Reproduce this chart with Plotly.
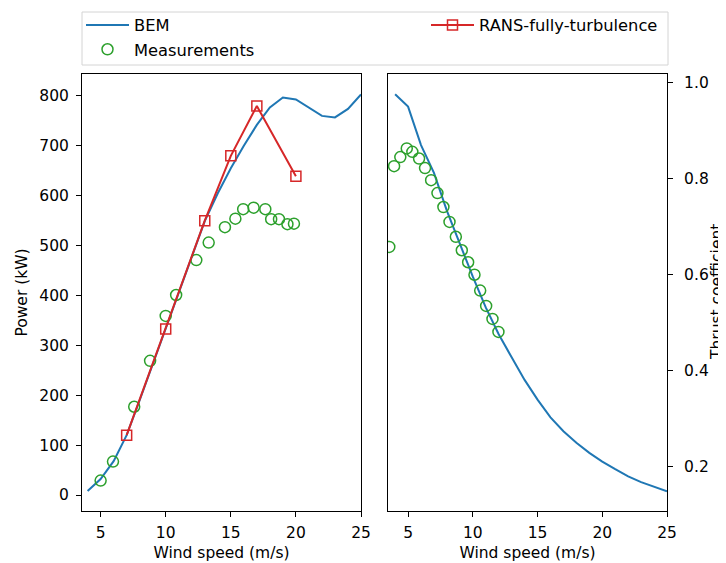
import plotly.graph_objects as go

# ---- data ----
bem_ws = [4, 5, 6, 7, 8, 9, 10, 11, 12, 13, 14, 15, 16, 17, 18, 19, 20, 21, 22, 23, 24, 25]
bem_power = [8, 32, 68, 120, 190, 262, 333, 405, 478, 549, 605, 655, 700, 742, 777, 797, 793, 777, 760, 757, 774, 803]
bem_ct = [0.976, 0.950, 0.870, 0.812, 0.733, 0.663, 0.596, 0.532, 0.476, 0.428, 0.381, 0.340,
          0.303, 0.274, 0.250, 0.229, 0.211, 0.195, 0.180, 0.168, 0.158, 0.149]

meas_p_ws = [5.0, 5.95, 7.58, 8.8, 10.0, 10.8, 12.35, 13.3, 14.55, 15.35, 15.95, 16.75, 17.65, 18.1, 18.7, 19.35, 19.85]
meas_power = [29, 67, 177, 269, 359, 401, 471, 506, 537, 554, 573, 576, 573, 553, 553, 543, 544]

meas_ct_ws = [3.55, 3.92, 4.4, 4.9, 5.33, 5.85, 6.31, 6.78, 7.27, 7.73, 8.2, 8.69, 9.15, 9.64, 10.13, 10.57, 11.03, 11.52, 11.98]
meas_ct = [0.658, 0.826, 0.845, 0.863, 0.856, 0.842, 0.822, 0.797, 0.770, 0.741, 0.710, 0.679, 0.651, 0.626, 0.600, 0.567, 0.535, 0.508, 0.481]

rans_ws = [7, 10, 13, 15, 17, 20]
rans_power = [120, 333, 550, 680, 780, 639]

x_ticks = [5, 10, 15, 20, 25]
p_ticks = [0, 100, 200, 300, 400, 500, 600, 700, 800]
ct_ticks = [0.2, 0.4, 0.6, 0.8, 1.0]

BLUE = "#1f77b4"
GREEN = "#2ca02c"
RED = "#d62728"
FONT = "DejaVu Sans"

# the page body has an 8px margin, so the figure is drawn 8px in from the window corner
OFF = 8
W, H = 726 - OFF, 563 - OFF
ML = 82 - OFF
MT = 74 - OFF
MB = H - (511 - OFF)
MR = W - (667 - OFF)
PW, PH = W - ML - MR, H - MT - MB


def px_x(px):
    return (px - OFF - ML) / PW


def px_y(py):
    return (H - MB - (py - OFF)) / PH


fig = go.Figure()

fig.add_trace(go.Scatter(x=bem_ws, y=bem_power, mode="lines", name="BEM",
                         line=dict(color=BLUE, width=2), xaxis="x", yaxis="y", legend="legend"))
fig.add_trace(go.Scatter(x=meas_p_ws, y=meas_power, mode="markers", name="Measurements",
                         marker=dict(symbol="circle-open", size=11, color=GREEN, line=dict(width=1.5)),
                         xaxis="x", yaxis="y", legend="legend"))
fig.add_trace(go.Scatter(x=rans_ws, y=rans_power, mode="lines+markers", name="RANS-fully-turbulence",
                         line=dict(color=RED, width=2),
                         marker=dict(symbol="square-open", size=10, color=RED, line=dict(width=1.5)),
                         xaxis="x", yaxis="y", legend="legend2"))
fig.add_trace(go.Scatter(x=bem_ws, y=bem_ct, mode="lines", name="BEM", showlegend=False,
                         line=dict(color=BLUE, width=2), xaxis="x2", yaxis="y2"))
fig.add_trace(go.Scatter(x=meas_ct_ws, y=meas_ct, mode="markers", name="Measurements", showlegend=False,
                         marker=dict(symbol="circle-open", size=11, color=GREEN, line=dict(width=1.5)),
                         xaxis="x2", yaxis="y2"))

axis_common = dict(showline=True, linecolor="black", linewidth=1, mirror=True,
                   ticks="outside", ticklen=5, tickwidth=1, tickcolor="black",
                   showgrid=False, zeroline=False, automargin=False,
                   tickfont=dict(family=FONT, size=15.5, color="black"))
title_font = dict(family=FONT, size=15.5, color="black")
legend_font = dict(family=FONT, size=16.3, color="black")

fig.update_layout(
    width=W, height=H,
    margin=dict(l=ML, r=MR, t=MT, b=MB, autoexpand=False),
    paper_bgcolor="white", plot_bgcolor="white",
    font=dict(family=FONT, size=15.5, color="black"),
    xaxis=dict(domain=[0, px_x(361)], range=[3.57, 25], tickvals=x_ticks, anchor="y",
               ticklabelstandoff=2,
               title=dict(text="Wind speed (m/s)", font=title_font, standoff=6), **axis_common),
    yaxis=dict(domain=[0, 1], range=[-32, 844], tickvals=p_ticks, anchor="x",
               ticklabelstandoff=4,
               title=dict(text="Power (kW)", font=title_font, standoff=7), **axis_common),
    xaxis2=dict(domain=[px_x(388), 1], range=[3.45, 25], tickvals=x_ticks, anchor="y2",
                ticklabelstandoff=2,
                title=dict(text="Wind speed (m/s)", font=title_font, standoff=6), **axis_common),
    yaxis2=dict(domain=[0, 1], range=[0.108, 1.018], tickvals=ct_ticks, tickformat=".1f", anchor="x2",
                side="right", ticklabelstandoff=8, **axis_common),
    legend=dict(x=px_x(81), y=px_y(8), xanchor="left", yanchor="top", itemwidth=43,
                bgcolor="rgba(0,0,0,0)", font=legend_font, orientation="v"),
    legend2=dict(x=px_x(426), y=px_y(8), xanchor="left", yanchor="top", itemwidth=43,
                 bgcolor="rgba(0,0,0,0)", font=legend_font, orientation="v"),
    annotations=[dict(text="Thrust coefficient", xref="paper", yref="paper",
                      x=px_x(716.5), y=px_y(292.5), xanchor="center", yanchor="middle",
                      textangle=-90, showarrow=False, font=title_font)],
    shapes=[dict(type="rect", xref="paper", yref="paper",
                 x0=px_x(82), x1=px_x(668), y0=px_y(65), y1=px_y(12),
                 line=dict(color="#d4d4d4", width=1), fillcolor="rgba(0,0,0,0)", layer="below")],
)

fig.write_html("out.html")
